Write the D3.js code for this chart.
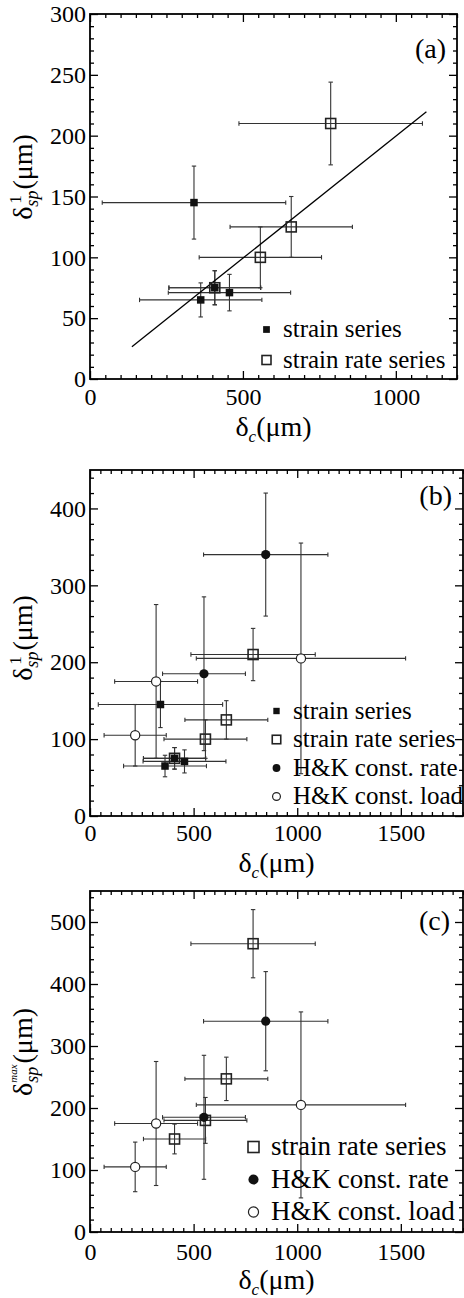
<!DOCTYPE html>
<html>
<head>
<meta charset="utf-8">
<script src="https://cdn.jsdelivr.net/npm/d3@7"></script>
<style>
    body { margin: 0; background: #fff; }
    svg { display: block; }
</style>
</head>
<body>
<div id="chart"></div>
<script>

// ---- data ----

// strain series (filled squares)
const strainX = [340, 362, 408, 456];
const strainXErr = [300, 200, 150, 200];
const strainY = [145, 65, 75, 71];
const strainYErr = [30, 14, 14, 15];

// strain rate series (open squares)
const rateX = [408, 557, 658, 787];
const rateXErr = [150, 200, 200, 300];
const rateY1 = [75, 100, 125, 210];
const rateY1Err = [14, 25, 25, 34];
const rateYmax = [150, 180, 247, 465];
const rateYmaxErr = [24, 37, 35, 55];

// H&K const. rate (filled circles)
const hkRateX = [550, 848];
const hkRateXErr = [200, 300];
const hkRateY = [185, 340];
const hkRateYErr = [100, 80];

// H&K const. load (open circles)
const hkLoadX = [218, 319, 1018];
const hkLoadXErr = [150, 200, 505];
const hkLoadY = [105, 175, 205];
const hkLoadYErr = [40, 100, 150];

// linear fit in panel (a), end points
const fitX = [137, 1100];
const fitY = [26.5, 219.7];

// tick labels
const xTicksA = [0, 500, 1000];
const yTicksA = [0, 50, 100, 150, 200, 250, 300];
const xTicksBC = [0, 500, 1000, 1500];
const yTicksB = [0, 100, 200, 300, 400];
const yTicksC = [0, 100, 200, 300, 400, 500];

const panelNames = ["(a)", "(b)", "(c)"];
const legendA = ["strain series", "strain rate series"];
const legendB = ["strain series", "strain rate series", "H&K const. rate", "H&K const. load"];
const legendC = ["strain rate series", "H&K const. rate", "H&K const. load"];

const FONT = "'Liberation Serif', Tinos, 'Times New Roman', 'DejaVu Serif', serif";

const svg = d3.select("#chart").append("svg")
    .attr("width", 464)
    .attr("height", 1298)
    .style("font-family", FONT);

// width of a piece of text, used to stack sub/superscripts
function textWidth(str, size, italic) {
    let t = svg.append("text")
        .style("font-family", FONT)
        .attr("font-size", size)
        .attr("font-style", italic ? "italic" : "normal")
        .text(str);
    let w = t.node().getComputedTextLength();
    t.remove();
    return w;
}

// draw one marker into selection g
function marker(g, sym, cx, cy, k) {
    if (sym === "fsq") {
        let s = 7.5 * k;
        g.append("rect").attr("x", cx - s / 2).attr("y", cy - s / 2)
            .attr("width", s).attr("height", s).attr("fill", "#111");
    } else if (sym === "osq") {
        let s = 10 * k;
        g.append("rect").attr("x", cx - s / 2).attr("y", cy - s / 2)
            .attr("width", s).attr("height", s)
            .attr("fill", "none").attr("stroke", "#222").attr("stroke-width", 1.6);
    } else if (sym === "fci") {
        g.append("circle").attr("cx", cx).attr("cy", cy).attr("r", 4.6 * k).attr("fill", "#111");
    } else {
        g.append("circle").attr("cx", cx).attr("cy", cy).attr("r", 4.6 * k)
            .attr("fill", "#fff").attr("stroke", "#222").attr("stroke-width", 1.2);
    }
}


class PanelVis {

    constructor(cfg) {
        this.cfg = cfg;
        this.initVis();
    }

    initVis() {
        let vis = this;
        let c = vis.cfg;

        vis.g = svg.append("g").attr("class", "panel");

        vis.x = d3.scaleLinear().domain(c.xDomain).range([c.left, c.right]);
        vis.y = d3.scaleLinear().domain(c.yDomain).range([c.bottom, c.top]);

        let xMinor = d3.range(c.xDomain[0], c.xDomain[1] + 1, c.xMinor).filter(v => !c.xTicks.includes(v));
        let yMinor = d3.range(c.yDomain[0], c.yDomain[1] + 1, c.yMinor).filter(v => !c.yTicks.includes(v));

        // ticks on all four sides, pointing in
        let axes = [
            [d3.axisBottom(vis.x).tickValues(c.xTicks).tickSize(-8).tickPadding(c.xPad).tickFormat(d3.format("d")), `translate(0,${c.bottom})`],
            [d3.axisBottom(vis.x).tickValues(xMinor).tickSize(-4).tickFormat(""), `translate(0,${c.bottom})`],
            [d3.axisTop(vis.x).tickValues(c.xTicks).tickSize(-8).tickFormat(""), `translate(0,${c.top})`],
            [d3.axisTop(vis.x).tickValues(xMinor).tickSize(-4).tickFormat(""), `translate(0,${c.top})`],
            [d3.axisLeft(vis.y).tickValues(c.yTicks).tickSize(-8).tickPadding(4).tickFormat(d3.format("d")), `translate(${c.left},0)`],
            [d3.axisLeft(vis.y).tickValues(yMinor).tickSize(-4).tickFormat(""), `translate(${c.left},0)`],
            [d3.axisRight(vis.y).tickValues(c.yTicks).tickSize(-8).tickFormat(""), `translate(${c.right},0)`],
            [d3.axisRight(vis.y).tickValues(yMinor).tickSize(-4).tickFormat(""), `translate(${c.right},0)`]
        ];
        axes.forEach(a => {
            let ax = vis.g.append("g").attr("transform", a[1]).call(a[0].tickSizeOuter(0));
            ax.attr("font-family", null);
            ax.select(".domain").remove();
            ax.selectAll("line").attr("stroke", "#000").attr("stroke-width", 1.3);
            ax.selectAll("text").attr("font-size", 24).attr("fill", "#000");
        });

        // frame
        vis.g.append("rect")
            .attr("x", c.left).attr("y", c.top)
            .attr("width", c.right - c.left).attr("height", c.bottom - c.top)
            .attr("fill", "none").attr("stroke", "#000").attr("stroke-width", 1.8);

        vis.wrangleData();
    }

    wrangleData() {
        let vis = this;

        vis.points = [];
        vis.cfg.series.forEach(s => {
            s.xs.forEach((xv, i) => {
                vis.points.push({x: xv, xe: s.xe[i], y: s.ys[i], ye: s.ye[i], sym: s.sym});
            });
        });

        vis.updateVis();
    }

    updateVis() {
        let vis = this;
        let c = vis.cfg;
        let cap = 2.2;

        // error bars
        let bars = vis.g.append("g").attr("class", "errorbars")
            .attr("stroke", "#333").attr("stroke-width", 1.1);

        vis.points.forEach(p => {
            let px = vis.x(p.x), py = vis.y(p.y);
            let x0 = vis.x(p.x - p.xe), x1 = vis.x(p.x + p.xe);
            let y0 = vis.y(p.y - p.ye), y1 = vis.y(p.y + p.ye);
            [[x0, py, x1, py], [x0, py - cap, x0, py + cap], [x1, py - cap, x1, py + cap],
             [px, y0, px, y1], [px - cap, y0, px + cap, y0], [px - cap, y1, px + cap, y1]]
                .forEach(s => bars.append("line")
                    .attr("x1", s[0]).attr("y1", s[1]).attr("x2", s[2]).attr("y2", s[3]));
        });

        // fit line
        if (c.fit) {
            vis.g.append("path")
                .datum(d3.zip(fitX, fitY))
                .attr("d", d3.line().x(d => vis.x(d[0])).y(d => vis.y(d[1])))
                .attr("fill", "none").attr("stroke", "#000").attr("stroke-width", 1.3);
        }

        // markers
        let marks = vis.g.append("g").attr("class", "markers");
        vis.points.forEach(p => marker(marks, p.sym, vis.x(p.x), vis.y(p.y), 1));

        // legend
        let leg = vis.g.append("g").attr("class", "legend");
        c.legend.forEach((name, i) => {
            let ly = c.legY + i * c.legStep;
            marker(leg, c.legSym[i], c.legX, ly, c.legK);
            leg.append("text")
                .attr("x", c.legX + c.legGap).attr("y", ly)
                .attr("dy", "0.3em")
                .attr("font-size", c.legFont)
                .text(name);
        });

        // panel name
        vis.g.append("text")
            .attr("x", c.nameX).attr("y", c.nameY)
            .attr("text-anchor", "end")
            .attr("font-size", 28)
            .text(c.name);

        // x label: δ_c(μm)
        let wd = textWidth("δ", 28), wc = textWidth("c", 17, true), wm = textWidth("(μm)", 28);
        let xl = (c.left + c.right) / 2 - (wd + wc + wm) / 2;
        let xg = vis.g.append("g").attr("transform", `translate(${xl},${c.xLabY})`);
        xg.append("text").attr("font-size", 28).text("δ");
        xg.append("text").attr("x", wd).attr("y", 6).attr("font-size", 17).attr("font-style", "italic").text("c");
        xg.append("text").attr("x", wd + wc).attr("font-size", 28).text("(μm)");

        // y label: δ_sp^1(μm) or δ_sp^max(μm)
        let supSize = c.sup === "max" ? 11 : 17;
        let ws = textWidth("sp", 18, true), wu = textWidth(c.sup, supSize, c.sup === "max");
        let wy = wd + Math.max(ws, wu) + 1 + wm;
        let yg = vis.g.append("g").attr("transform", `translate(32,${c.yLabY}) rotate(-90)`);
        let x0 = -wy / 2;
        yg.append("text").attr("x", x0).attr("font-size", 28).text("δ");
        yg.append("text").attr("x", x0 + wd).attr("y", 6).attr("font-size", 18).attr("font-style", "italic").text("sp");
        yg.append("text").attr("x", x0 + wd + (c.sup === "max" ? 0 : 3)).attr("y", c.sup === "max" ? -15 : -11)
            .attr("font-size", supSize).attr("font-style", c.sup === "max" ? "italic" : "normal").text(c.sup);
        yg.append("text").attr("x", x0 + wd + Math.max(ws, wu) + 1).attr("font-size", 28).text("(μm)");

        vis.g.selectAll("text").style("font-family", FONT).attr("fill", "#000");
    }
}


let panelA = new PanelVis({
    name: panelNames[0], nameX: 446, nameY: 58,
    left: 90, right: 457, top: 14, bottom: 379,
    xDomain: [0, 1200], yDomain: [0, 300],
    xTicks: xTicksA, yTicks: yTicksA, xMinor: 50, yMinor: 10, xPad: 9,
    xLabY: 436, yLabY: 177, sup: "1",
    fit: true,
    series: [
        {xs: rateX, xe: rateXErr, ys: rateY1, ye: rateY1Err, sym: "osq"},
        {xs: strainX, xe: strainXErr, ys: strainY, ye: strainYErr, sym: "fsq"}
    ],
    legend: legendA, legSym: ["fsq", "osq"],
    legX: 266.5, legY: 329.5, legStep: 30.5, legGap: 16.5, legFont: 25, legK: 0.9
});

let panelB = new PanelVis({
    name: panelNames[1], nameX: 452, nameY: 505,
    left: 90, right: 463, top: 470, bottom: 816,
    xDomain: [0, 1800], yDomain: [0, 450],
    xTicks: xTicksBC, yTicks: yTicksB, xMinor: 50, yMinor: 20, xPad: 8,
    xLabY: 872, yLabY: 638, sup: "1",
    fit: false,
    series: [
        {xs: rateX, xe: rateXErr, ys: rateY1, ye: rateY1Err, sym: "osq"},
        {xs: strainX, xe: strainXErr, ys: strainY, ye: strainYErr, sym: "fsq"},
        {xs: hkRateX, xe: hkRateXErr, ys: hkRateY, ye: hkRateYErr, sym: "fci"},
        {xs: hkLoadX, xe: hkLoadXErr, ys: hkLoadY, ye: hkLoadYErr, sym: "oci"}
    ],
    legend: legendB, legSym: ["fsq", "osq", "fci", "oci"],
    legX: 276.5, legY: 711, legStep: 28.5, legGap: 16.5, legFont: 25, legK: 0.85
});

let panelC = new PanelVis({
    name: panelNames[2], nameX: 450, nameY: 930,
    left: 90, right: 463, top: 891, bottom: 1232,
    xDomain: [0, 1800], yDomain: [0, 550],
    xTicks: xTicksBC, yTicks: yTicksC, xMinor: 50, yMinor: 20, xPad: 11,
    xLabY: 1289, yLabY: 1052, sup: "max",
    fit: false,
    series: [
        {xs: rateX, xe: rateXErr, ys: rateYmax, ye: rateYmaxErr, sym: "osq"},
        {xs: hkRateX, xe: hkRateXErr, ys: hkRateY, ye: hkRateYErr, sym: "fci"},
        {xs: hkLoadX, xe: hkLoadXErr, ys: hkLoadY, ye: hkLoadYErr, sym: "oci"}
    ],
    legend: legendC, legSym: ["osq", "fci", "oci"],
    legX: 253.5, legY: 1147, legStep: 32.5, legGap: 17.5, legFont: 27, legK: 1.1
});

</script>
</body>
</html>
